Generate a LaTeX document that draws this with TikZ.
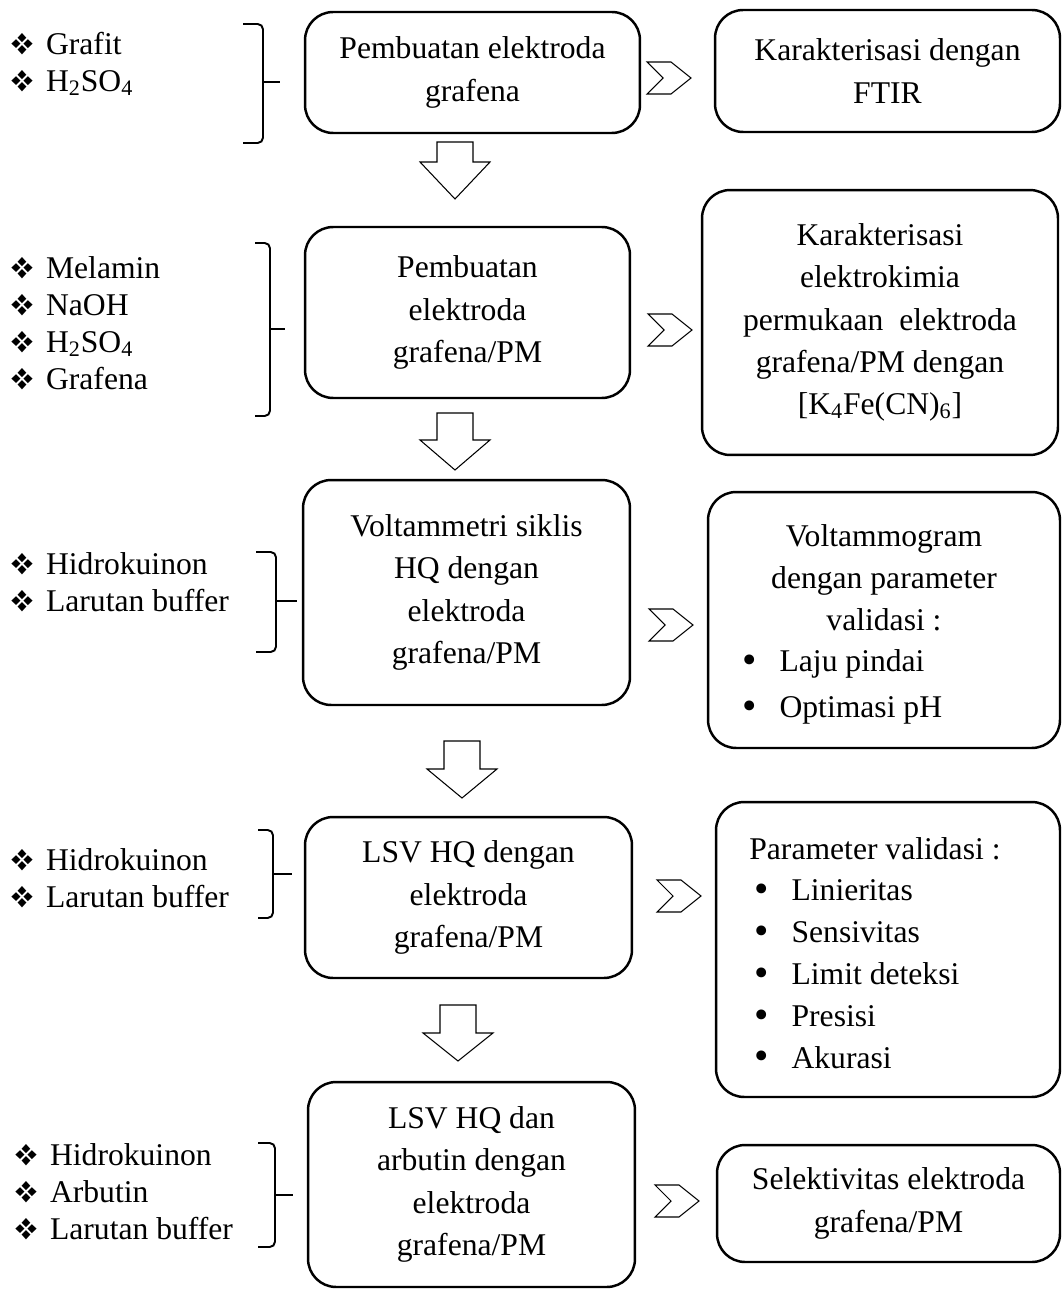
\documentclass[tikz,border=0pt]{standalone}
\usepackage{fontspec}
\setmainfont{Liberation Serif}
\usepackage{pifont}
\usetikzlibrary{positioning}

\newcommand{\dia}{{\fontsize{17}{17}\selectfont\ding{118}}\hspace{7pt}}
\newcommand{\bul}{\raisebox{-1pt}{\scalebox{1.3}{\textbullet}}\hspace{13pt}}
\newcommand{\inbracket}[6]{%
  \draw[brk] (#1,#3) -- (#2,#3) -- (#2,#5) -- (#1,#5);
  \draw[brk] (#2,#4) -- (#6,#4);}

\tikzset{
  box/.style={draw, line width=1.4pt, rounded corners=16pt, inner sep=0pt,
    align=center, font=\fontsize{18}{24}\selectfont},
  txt/.style={align=center, inner sep=0pt, font=\fontsize{18}{24}\selectfont},
  lst/.style={align=left, anchor=west, inner sep=0pt, font=\fontsize{18}{21}\selectfont},
  brk/.style={line width=1.1pt, rounded corners=3pt},
  pics/downarr/.style 2 args={code={
    \draw[line width=0.6pt] (-18,0) -- (18,0) -- (18,#1) -- (35,#1) -- (0,#2)
      -- (-35,#1) -- (-18,#1) -- cycle;}},
  pics/chev/.style={code={
    \draw[line width=0.6pt] (-22,-16) -- (2,-16) -- (22,0) -- (2,16)
      -- (-22,16) -- (-6,0) -- cycle;}}
}

\begin{document}
\begin{tikzpicture}[x=0.02cm, y=-0.02cm]
\useasboundingbox (0,0) rectangle (1063,1290);

% --- row 1 ---
\node[lst] (in1) at (10,64) {\dia Grafit\\\dia H\textsubscript{2}SO\textsubscript{4}};
\inbracket{243}{263}{24}{82}{143}{280}
\node[box, minimum width=6.7cm, minimum height=2.42cm] (m1) at (472.5,72.5)
  {Pembuatan elektroda\\grafena};
\pic at (669,78) {chev};
\node[box, minimum width=6.9cm, minimum height=2.44cm] (r1) at (887.5,71)
  {Karakterisasi dengan\\FTIR};
\pic at (455,142) {downarr={20}{57}};

% --- row 2 ---
\node[lst] (in2) at (10,323) {\dia Melamin\\\dia NaOH\\\dia H\textsubscript{2}SO\textsubscript{4}\\\dia Grafena};
\inbracket{255}{270}{243}{329}{416}{285}
\node[box, minimum width=6.5cm, minimum height=3.42cm] (m2) at (467.5,312.5)
  {Pembuatan\\elektroda\\grafena/PM};
\pic at (670,330) {chev};
\node[box, minimum width=7.12cm, minimum height=5.3cm] (r2) at (880,322.5)
  {Karakterisasi\\elektrokimia\\permukaan\ \ elektroda\\grafena/PM dengan\\{}[K\textsubscript{4}Fe(CN)\textsubscript{6}]};
\pic at (455,413) {downarr={27}{57}};

% --- row 3 ---
\node[lst] (in3) at (10,582) {\dia Hidrokuinon\\\dia Larutan buffer};
\inbracket{256}{276}{552}{601}{652}{297}
\node[box, minimum width=6.54cm, minimum height=4.5cm] (m3) at (466.5,592.5)
  {Voltammetri siklis\\HQ dengan\\elektroda\\grafena/PM};
\pic at (671,625) {chev};
\node[box, minimum width=7.04cm, minimum height=5.12cm] (r3) at (884,620) {};
\node[txt] (r3t) at (884,578) {Voltammogram\\dengan parameter\\validasi :};
\node[lst, font=\fontsize{18}{26}\selectfont] (r3l) at (742,687) {\bul Laju pindai\\\bul Optimasi pH};
\pic at (462,741) {downarr={28}{57}};

% --- row 4 ---
\node[lst] (in4) at (10,878) {\dia Hidrokuinon\\\dia Larutan buffer};
\inbracket{258}{273}{830}{874}{918}{292}
\node[box, minimum width=6.54cm, minimum height=3.22cm] (m4) at (468.5,897.5)
  {LSV HQ dengan\\elektroda\\grafena/PM};
\pic at (679,896) {chev};
\node[box, minimum width=6.88cm, minimum height=5.9cm] (r4) at (888,949.5) {};
\node[lst] (r4t) at (749,849) {Parameter validasi :};
\node[lst, font=\fontsize{18}{23.8}\selectfont] (r4l) at (754,975)
  {\bul Linieritas\\\bul Sensivitas\\\bul Limit deteksi\\\bul Presisi\\\bul Akurasi};
\pic at (458,1005) {downarr={28}{56}};

% --- row 5 ---
\node[lst] (in5) at (14,1192) {\dia Hidrokuinon\\\dia Arbutin\\\dia Larutan buffer};
\inbracket{258}{275}{1143}{1195}{1247}{293}
\node[box, minimum width=6.54cm, minimum height=4.1cm] (m5) at (471.5,1184.5)
  {LSV HQ dan\\arbutin dengan\\elektroda\\grafena/PM};
\pic at (677,1201) {chev};
\node[box, minimum width=6.86cm, minimum height=2.34cm] (r5) at (888.5,1203.5)
  {Selektivitas elektroda\\grafena/PM};
\end{tikzpicture}
\end{document}
